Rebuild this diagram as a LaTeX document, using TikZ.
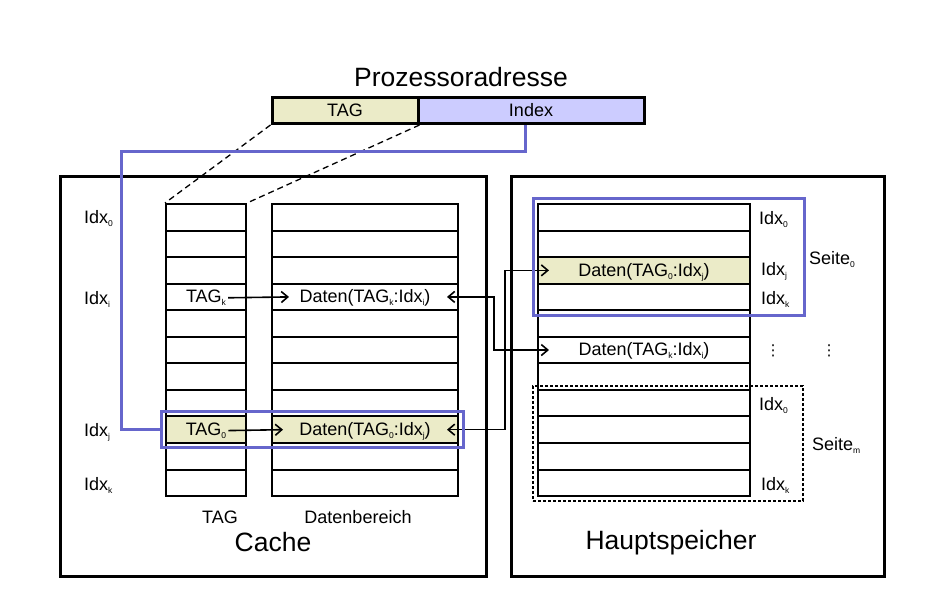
\documentclass[tikz,border=0pt]{standalone}
\usepackage{fontspec}
\setmainfont{Liberation Sans}
\newfontfamily\symfont{DejaVu Sans}
\usetikzlibrary{arrows.meta, fit}
\definecolor{tagfill}{RGB}{235,235,200}
\definecolor{idxfill}{RGB}{204,204,255}
\definecolor{pageblue}{RGB}{102,102,204}
\newcommand{\sub}[1]{\raisebox{-3pt}{\fontsize{8.5}{8.5}\selectfont #1}}

\begin{document}
\begin{tikzpicture}[x=1pt, y=-1pt,
    every node/.style={font=\fontsize{18}{21}\selectfont, inner sep=2pt},
    txt/.style={anchor=mid, yshift=-3pt},
    txtw/.style={anchor=mid west, yshift=-3pt},
    bigtext/.style={font=\fontsize{26.5}{30}\selectfont, anchor=mid, yshift=-5pt},
    cell/.style={draw, line width=2pt, minimum height=26.55pt, inner sep=0pt},
    field/.style={draw, line width=3pt, minimum height=26pt, inner sep=0pt},
    bigbox/.style={draw, line width=3pt, inner sep=0pt},
    pagebox/.style={draw=pageblue, line width=3pt, inner sep=0pt},
    blueline/.style={draw=pageblue, line width=3pt},
    link/.style={line width=1.6pt},
    >={Straight Barb[length=6.5pt,width=11pt]}]
    \useasboundingbox (0,0) rectangle (925,609);

    % Prozessoradresse
    \node[bigtext] (title) at (461,78.5) {Prozessoradresse};
    \node[field, fill=tagfill, minimum width=146pt] (tagfield) at (345,110.5) {TAG};
    \node[field, fill=idxfill, minimum width=226pt] (index) at (531,110.5) {Index};

    % Cache und Hauptspeicher
    \node[bigbox, minimum width=426pt, minimum height=399pt] (cache) at (273,376.5) {};
    \node[bigbox, minimum width=373pt, minimum height=399pt] (haupt) at (697.5,376.5) {};

    % Zeilen
    \foreach \i in {1,...,11} {
        \node[cell, minimum width=80pt] (t\i) at (206,{204+(\i-0.5)*26.55}) {};
        \node[cell, minimum width=186pt] (d\i) at (365,{204+(\i-0.5)*26.55}) {};
        \node[cell, minimum width=212pt] (m\i) at (644,{204+(\i-0.5)*26.55}) {};
    }
    \node[cell, fill=tagfill, minimum width=80pt] (t9) at (t9) {};
    \node[cell, fill=tagfill, minimum width=186pt] (d9) at (d9) {};
    \node[cell, fill=tagfill, minimum width=212pt] (m3) at (m3) {};

    % Eintraege
    \node[txt] (tagk) at (t4) {TAG\sub{k}};
    \node[txt] (datk) at (d4) {Daten(TAG\sub{k}:Idx\sub{i})};
    \node[txt] (tag0) at (t9) {TAG\sub{0}};
    \node[txt] (dat0) at (d9) {Daten(TAG\sub{0}:Idx\sub{j})};
    \node[txt] (memj) at (m3) {Daten(TAG\sub{0}:Idx\sub{j})};
    \node[txt] (memi) at (m6) {Daten(TAG\sub{k}:Idx\sub{i})};

    \draw[->, link] (tagk.east) -- ([xshift=18pt]d4.west);
    \draw[->, link] (tag0.east) -- ([xshift=12pt]d9.west);
    \draw[<->, link] ([xshift=-12pt]d4.east) -- ++(47,0) |- ([xshift=12pt]m6.west);
    \draw[<->, link] ([xshift=-12pt]d9.east) -- ++(58,0) |- ([xshift=12pt]m3.west);

    % TAG-Spalte
    \draw[dashed, line width=1.3pt, dash pattern=on 6pt off 4pt] (tagfield.south west) -- (t1.north west);
    \draw[dashed, line width=1.3pt, dash pattern=on 6pt off 4pt] (tagfield.south east) -- (t1.north east);

    % Index
    \node[pagebox, fit=(t9)(d9), inner sep=4pt] (hilite) {};
    \draw[blueline] ([xshift=-6pt]index.south) -- ++(0,27) -| ([xshift=-38pt]hilite.west) -- (hilite.west);

    % Seiten
    \node[pagebox, minimum width=271pt, minimum height=116pt] (seite0box) at (668.5,257) {};
    \node[draw, line width=1.3pt, dash pattern=on 3pt off 2pt, minimum width=270pt, minimum height=115pt] (seitembox) at (668,443.5) {};

    % Beschriftungen Cache
    \node[txtw] (cidx0) at (82,218) {Idx\sub{0}};
    \node[txtw] (cidxi) at (82,299) {Idx\sub{i}};
    \node[txtw] (cidxj) at (82,431) {Idx\sub{j}};
    \node[txtw] (cidxk) at (82,485) {Idx\sub{k}};
    \node[txt] (taglabel) at (220,518) {TAG};
    \node[txt] (datlabel) at (358,518) {Datenbereich};
    \node[bigtext] (cachelabel) at (273,544) {Cache};

    % Beschriftungen Hauptspeicher
    \node[txtw] (midx0) at (757,219) {Idx\sub{0}};
    \node[txtw] (midxj) at (759,270) {Idx\sub{j}};
    \node[txtw] (midxk) at (759,299) {Idx\sub{k}};
    \node[txtw] (seite0) at (807,259) {Seite\sub{0}};
    \node[font=\symfont\fontsize{15}{15}\selectfont] (dots1) at (773,351) {⋮};
    \node[font=\symfont\fontsize{15}{15}\selectfont] (dots2) at (829,351) {⋮};
    \node[txtw] (midx0m) at (757,405) {Idx\sub{0}};
    \node[txtw] (seitem) at (810,445) {Seite\sub{m}};
    \node[txtw] (midxkm) at (759,485) {Idx\sub{k}};
    \node[bigtext] (hauptlabel) at (671,542) {Hauptspeicher};
\end{tikzpicture}
\end{document}
